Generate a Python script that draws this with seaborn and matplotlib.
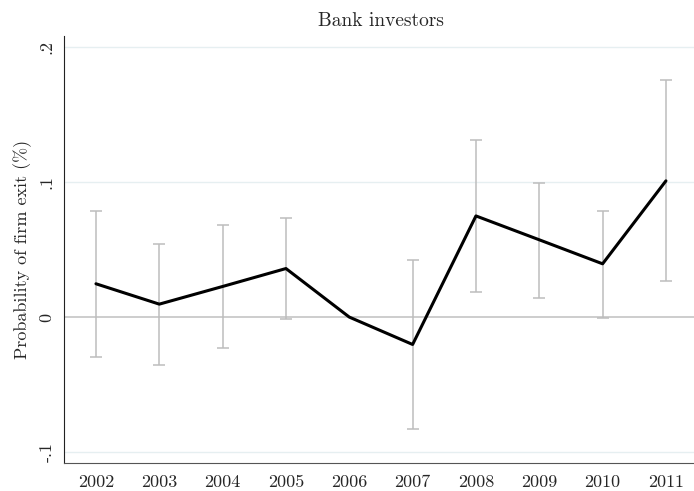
import pandas
import numpy
from matplotlib import pyplot as plt
import seaborn as sns

# point estimates and 95% CI (2006 is the base year)
years = [2002, 2003, 2004, 2005, 2006, 2007, 2008, 2009, 2010, 2011]
coef = [0.0247, 0.0096, 0.0227, 0.0360, 0.0, -0.0203, 0.0750, 0.0573, 0.0395, 0.1010]
ci_low = [-0.0296, -0.0358, -0.0230, -0.0013, numpy.nan, -0.0833, 0.0185, 0.0143, -0.0010, 0.0269]
ci_high = [0.0785, 0.0545, 0.0681, 0.0738, numpy.nan, 0.0424, 0.1316, 0.0995, 0.0790, 0.1758]
ytick_values = [-0.1, 0.0, 0.1, 0.2]
ytick_labels = ['-.1', '0', '.1', '.2']

df = pandas.DataFrame({'year': years, 'coef': coef, 'lo': ci_low, 'hi': ci_high})

sns.set_style('white')
plt.rcParams['font.family'] = ['cmr10', 'DejaVu Serif']
plt.rcParams['axes.formatter.use_mathtext'] = True

fig = plt.figure(figsize=(6.94, 4.91), dpi=100)
ax = fig.add_axes([64.3 / 694, 1 - 463.3 / 491, (697.6 - 64.3) / 694, (463.3 - 36) / 491])

for v in ytick_values:
    if v == 0:
        continue
    ax.axhline(v, color='#e6eff1', lw=1.0, zorder=0)
ax.axhline(0, color='#cdcdcd', lw=1.4, zorder=1)

ci = df.dropna()
ax.errorbar(ci['year'], (ci['lo'] + ci['hi']) / 2, yerr=(ci['hi'] - ci['lo']) / 2,
            fmt='none', ecolor='#bdbdbd', elinewidth=1.1, capsize=4.0, capthick=1.1, zorder=2)

sns.lineplot(data=df, x='year', y='coef', color='black', lw=2.2, ax=ax, zorder=3)

ax.set_xlim(2001.5, 2011.5)
ax.set_ylim(-0.1084, 0.2084)
ax.set_xticks(years)
ax.set_xticklabels([str(y) for y in years], fontsize=13)
ax.set_yticks(ytick_values)
ax.set_yticklabels(ytick_labels, rotation=90, va='center', fontsize=13)
ax.tick_params(axis='both', direction='out', length=5, width=1, color='#444444', pad=3)
ax.tick_params(axis='y', pad=2)

for side in ['top', 'right']:
    ax.spines[side].set_visible(False)
ax.spines['left'].set_color('#222222')
ax.spines['bottom'].set_color('#555555')

ax.set_xlabel('')
ax.set_ylabel('Probability of firm exit (%)', fontsize=13, labelpad=5)
ax.set_title('Bank investors', fontsize=14, pad=7)

fig.savefig('out.png', dpi=100)
